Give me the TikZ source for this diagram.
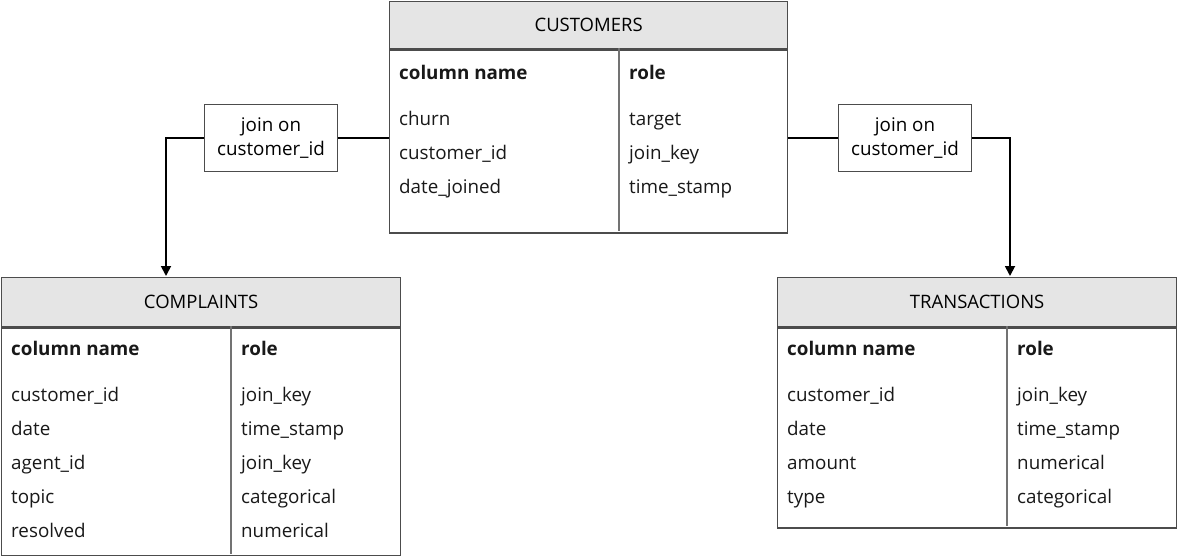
\documentclass[tikz,border=0pt]{standalone}
\usepackage{fontspec}
\setmainfont{Open Sans}
\usetikzlibrary{arrows.meta,positioning}

\tikzset{
  tblhead/.style={draw=black!70,line width=1.3pt,fill=black!10,inner sep=0pt,font=\fontsize{18.5}{20}\selectfont},
  tblbody/.style={draw=black!70,line width=1.3pt,fill=white,inner sep=0pt},
  tblline/.style={draw=black!55,line width=1.5pt},
  cell/.style={anchor=west,inner sep=0pt,text height=13.5pt,text depth=0pt,yshift=-1pt,font=\fontsize{18.8}{20}\selectfont,text=black!90},
  boldcell/.style={cell,font=\fontsize{18.8}{20}\selectfont\bfseries},
  joinbox/.style={draw=black!70,line width=1.3pt,fill=white,align=center,minimum width=133,minimum height=67,inner sep=0pt,font=\fontsize{18.8}{24}\selectfont},
  link/.style={draw=black,line width=1.8pt},
}

\begin{document}
\begin{tikzpicture}[x=1pt,y=-1pt]
\useasboundingbox (0,0) rectangle (1177,556);

% customers
\node[tblhead,anchor=north west,minimum width=398,minimum height=47] (cust-head) at (389,1) {CUSTOMERS};
\node[tblbody,anchor=north west,minimum width=398,minimum height=183] (cust-body) at (cust-head.south west) {};
\draw[tblline] (619,48)--(619,231);
\node[boldcell] (cust-name) at (399,72) {column name};
\node[boldcell] (cust-role) at (629,72) {role};
\foreach \n/\r [count=\i from 0] in {churn/target,customer\_id/join\_key,date\_joined/time\_stamp} {
  \node[cell] (cust-n\i) at (399,118+34*\i) {\n};
  \node[cell] (cust-r\i) at (629,118+34*\i) {\r};
}

% complaints
\node[tblhead,anchor=north west,minimum width=399,minimum height=49] (comp-head) at (1,277) {COMPLAINTS};
\node[tblbody,anchor=north west,minimum width=399,minimum height=228] (comp-body) at (comp-head.south west) {};
\draw[tblline] (231,326)--(231,554);
\node[boldcell] (comp-name) at (11,348) {column name};
\node[boldcell] (comp-role) at (241,348) {role};
\foreach \n/\r [count=\i from 0] in {customer\_id/join\_key,date/time\_stamp,agent\_id/join\_key,topic/categorical,resolved/numerical} {
  \node[cell] (comp-n\i) at (11,394+34*\i) {\n};
  \node[cell] (comp-r\i) at (241,394+34*\i) {\r};
}

% transactions
\node[tblhead,anchor=north west,minimum width=399,minimum height=49] (tran-head) at (777,277) {TRANSACTIONS};
\node[tblbody,anchor=north west,minimum width=399,minimum height=200] (tran-body) at (tran-head.south west) {};
\draw[tblline] (1007,326)--(1007,526);
\node[boldcell] (tran-name) at (787,348) {column name};
\node[boldcell] (tran-role) at (1017,348) {role};
\foreach \n/\r [count=\i from 0] in {customer\_id/join\_key,date/time\_stamp,amount/numerical,type/categorical} {
  \node[cell] (tran-n\i) at (787,394+34*\i) {\n};
  \node[cell] (tran-r\i) at (1017,394+34*\i) {\r};
}

% joins
\node[joinbox] (join-comp) at (271,138) {join on\\customer\_id};
\node[joinbox] (join-tran) at (905,138) {join on\\customer\_id};
\coordinate (comp-in) at (166,276);
\coordinate (tran-in) at (1010,276);

\draw[link] (join-comp.east)--(join-comp.east -| cust-body.west);
\draw[link] (join-tran.west)--(join-tran.west -| cust-body.east);
\draw[link,-{Triangle[length=10pt,width=10pt]}] (join-comp.west) -| (comp-in);
\draw[link,-{Triangle[length=10pt,width=10pt]}] (join-tran.east) -| (tran-in);
\end{tikzpicture}
\end{document}
